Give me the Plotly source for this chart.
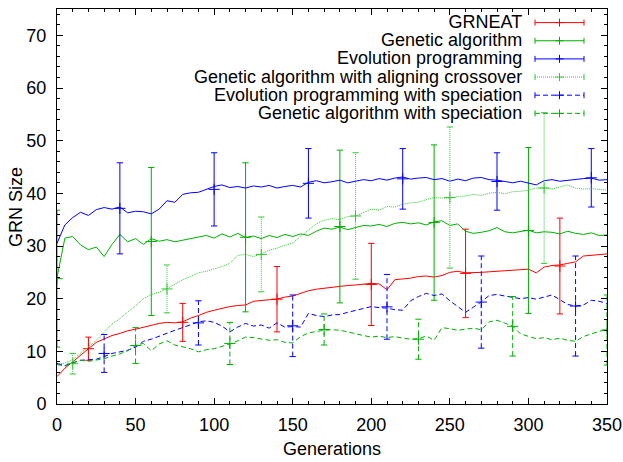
import plotly.graph_objects as go

# ---------------- data ----------------
GENS = list(range(0, 351, 5))

GRNEAT = [5.2, 6.8, 8.0, 9.3, 10.5, 11.7, 12.4, 13.0, 13.4, 13.9, 14.2, 14.6, 14.9, 15.3, 15.5, 15.4,
          15.6, 16.3, 16.8, 17.4, 17.8, 18.2, 18.5, 18.7, 18.8, 19.5, 19.7, 19.8, 19.9, 20.3, 20.5, 21.0,
          21.5, 21.8, 22.0, 22.2, 22.3, 22.5, 22.6, 22.8, 22.9, 22.8, 21.7, 23.6, 23.7, 23.9, 24.2, 24.3,
          24.1, 24.4, 25.0, 25.2, 24.9, 24.9, 25.0, 25.1, 25.2, 25.3, 25.4, 25.6, 25.6, 24.9, 26.0, 26.3,
          26.4, 26.7, 27.0, 28.1, 28.2, 28.4, 28.5]

GA = [24.0, 31.5, 31.8, 30.2, 29.3, 29.8, 28.0, 30.3, 32.2, 30.8, 31.4, 30.3, 31.4, 30.9, 31.2, 30.8,
      31.1, 31.4, 31.6, 32.0, 31.5, 32.3, 31.7, 32.4, 31.6, 31.9, 31.4, 32.0, 31.6, 32.2, 31.8, 32.3,
      32.0, 32.8, 33.4, 33.2, 33.6, 33.1, 33.5, 33.9, 33.8, 34.1, 33.7, 34.3, 34.5, 34.2, 34.4, 34.0,
      34.6, 34.8, 33.9, 34.2, 32.8, 32.4, 32.6, 32.9, 33.5, 32.7, 32.5, 32.8, 33.0, 32.5, 32.7, 32.6,
      32.3, 32.8, 32.4, 32.2, 32.5, 32.0, 32.1]

EP = [30.5, 34.0, 35.4, 36.4, 35.8, 36.9, 37.3, 37.0, 37.4, 36.3, 36.6, 36.5, 36.1, 37.0, 38.6, 38.3,
      39.8, 40.1, 40.2, 40.8, 41.3, 41.6, 41.1, 41.3, 41.0, 41.4, 41.2, 41.5, 41.0, 41.3, 41.5, 41.2,
      42.1, 42.4, 42.0, 42.2, 42.5, 42.0, 42.3, 42.6, 42.4, 42.8, 42.5, 42.9, 43.1, 42.7, 42.9, 43.0,
      42.6, 42.8, 42.3, 42.7, 42.4, 42.9, 43.0, 42.6, 42.5, 42.2, 42.0, 42.3, 41.9, 41.6, 42.4, 42.6,
      42.3, 42.5, 42.6, 42.8, 42.9, 42.5, 42.6]

GA_ALIGN = [7.5, 7.8, 8.4, 9.6, 10.8, 12.1, 13.6, 15.2, 16.2, 17.5, 18.6, 20.0, 20.8, 21.2, 21.9, 22.8,
            23.6, 24.2, 24.9, 25.2, 25.6, 26.1, 26.7, 28.2, 28.4, 28.0, 28.5, 29.2, 29.6, 30.1, 30.6, 31.8,
            33.0, 34.2, 34.9, 35.2, 35.0, 35.6, 35.7, 36.4, 37.0, 36.8, 37.5, 37.4, 37.9, 38.2, 38.3, 38.8,
            39.2, 39.1, 39.1, 39.4, 39.5, 39.8, 39.6, 40.0, 40.2, 39.9, 40.3, 40.4, 40.6, 41.0, 41.1, 40.8,
            41.2, 41.6, 41.0, 40.8, 40.9, 40.7, 40.6]

EP_SPEC = [7.7, 7.3, 7.8, 8.3, 8.4, 8.5, 9.0, 9.6, 9.9, 10.2, 10.8, 11.9, 12.3, 12.9, 13.4, 14.0,
           14.5, 15.1, 15.6, 15.8, 15.5, 14.8, 13.7, 14.6, 15.3, 14.8, 15.0, 14.4, 15.4, 14.6, 14.7, 14.6,
           17.2, 16.8, 16.6, 16.9, 17.0, 17.4, 17.8, 18.2, 18.5, 18.3, 18.2, 17.9, 17.8, 19.6, 20.4, 21.0,
           20.6, 20.9, 19.6, 18.5, 17.4, 18.4, 19.4, 20.6, 20.8, 20.5, 20.3, 20.0, 20.2, 19.9, 20.3, 20.7,
           19.8, 18.9, 18.6, 18.8, 19.7, 19.5, 19.1]

GA_SPEC = [7.5, 7.2, 7.8, 8.3, 8.1, 8.4, 8.6, 9.1, 9.5, 10.1, 11.1, 11.5, 10.1, 11.4, 12.0, 11.2,
           10.9, 10.5, 9.9, 10.3, 10.5, 10.9, 11.4, 12.0, 12.7, 12.6, 12.4, 12.1, 12.2, 11.7, 11.6, 12.8,
           13.5, 13.8, 14.0, 14.1, 14.0, 13.7, 13.3, 13.0, 12.7, 12.9, 12.6, 12.8, 12.5, 12.3, 12.4, 12.9,
           12.1, 14.5, 14.3, 14.0, 14.2, 14.4, 14.1, 15.6, 15.9, 15.3, 14.8, 13.3, 12.9, 12.4, 12.6, 12.2,
           12.5, 12.1, 11.9, 12.8, 13.3, 13.8, 14.1]

# error bars: x position, centre, half-width
GRNEAT_EX = [20, 80, 140, 200, 260, 320]
GRNEAT_EY = [10.5, 15.5, 19.9, 22.7, 24.8, 26.2]
GRNEAT_EE = [2.2, 3.6, 6.2, 7.8, 8.4, 9.1]

GA_EX = [0, 60, 120, 180, 240, 300]
GA_EY = [23.8, 30.85, 31.65, 33.7, 34.45, 32.95]
GA_EE = [13.0, 14.05, 14.15, 14.5, 14.75, 15.75]

EP_EX = [40, 100, 160, 220, 280, 340]
EP_EY = [37.15, 40.75, 41.9, 42.75, 42.25, 42.95]
EP_EE = [8.65, 6.95, 6.6, 5.75, 5.45, 5.55]

GA_ALIGN_EX = [10, 70, 130, 190, 250, 310]
GA_ALIGN_EY = [7.65, 21.85, 28.4, 35.7, 39.2, 41.0]
GA_ALIGN_EE = [1.95, 4.55, 7.1, 12.0, 13.4, 14.3]

EP_SPEC_EX = [30, 90, 150, 210, 270, 330]
EP_SPEC_EY = [9.6, 15.4, 14.85, 18.45, 19.35, 18.6]
EP_SPEC_EE = [3.6, 4.2, 5.85, 6.15, 8.75, 9.5]

GA_SPEC_EX = [50, 110, 170, 230, 290, 350]
GA_SPEC_EY = [11.1, 11.5, 14.15, 12.3, 14.75, 14.05]
GA_SPEC_EE = [3.4, 4.0, 2.95, 3.8, 5.65, 6.65]

NAMES = ["GRNEAT", "Genetic algorithm", "Evolution programming",
         "Genetic algorithm with aligning crossover",
         "Evolution programming with speciation", "Genetic algorithm with speciation"]

X_TICKS = [0, 50, 100, 150, 200, 250, 300, 350]
Y_TICKS = [0, 10, 20, 30, 40, 50, 60, 70]

# ---------------- styles ----------------
FONT = "Liberation Sans, Arial, Helvetica, sans-serif"
FS = 18
CAP = 2.0  # half cap width in generations
SERIES = [
    (GRNEAT, GRNEAT_EX, GRNEAT_EY, GRNEAT_EE, "#ff0000", "solid"),
    (GA, GA_EX, GA_EY, GA_EE, "#00b000", "solid"),
    (EP, EP_EX, EP_EY, EP_EE, "#0000ff", "solid"),
    (GA_ALIGN, GA_ALIGN_EX, GA_ALIGN_EY, GA_ALIGN_EE, "#33c833", "1px,1px"),
    (EP_SPEC, EP_SPEC_EX, EP_SPEC_EY, EP_SPEC_EE, "#0000ff", "5px,3px"),
    (GA_SPEC, GA_SPEC_EX, GA_SPEC_EY, GA_SPEC_EE, "#00b000", "5px,3px"),
]

# plot area in pixels (for legend placement)
L, R, T, B = 57, 607, 9, 404
W, H = 623, 462


def px2paper(px, py):
    return (px - L) / (R - L), (B - py) / (B - T)


fig = go.Figure()

for (ys, ex, ey, ee, col, dash), name in zip(SERIES, NAMES):
    fig.add_trace(go.Scatter(x=GENS, y=ys, mode="lines", name=name, showlegend=False,
                             line=dict(color=col, width=1, dash=dash)))
    bx, by, cx, cy = [], [], [], []
    for x, y, e in zip(ex, ey, ee):
        bx += [x, x, None]
        by += [y - e, y + e, None]
        for yy in (y - e, y + e):
            cx += [x - CAP, x + CAP, None]
            cy += [yy, yy, None]
    fig.add_trace(go.Scatter(x=bx, y=by, mode="lines", showlegend=False, hoverinfo="skip",
                             line=dict(color=col, width=1, dash=dash)))
    fig.add_trace(go.Scatter(x=cx, y=cy, mode="lines", showlegend=False, hoverinfo="skip",
                             line=dict(color=col, width=1)))
    fig.add_trace(go.Scatter(x=ex, y=ey, mode="markers", showlegend=False, hoverinfo="skip",
                             marker=dict(symbol="cross-thin", size=8, color=col,
                                         line=dict(color=col, width=1))))

# manual gnuplot-style legend: one right-aligned multi-line text block
shapes = []
annotations = []
ROW0, DROW = 22.6, 18.15
TXT_R, S0, S1 = 523, 535, 584
LEG_BASE = 14  # base size -> line pitch 1.3 * 14 = 18.2 px, like the reference rows
legend_text = "<br>".join(f'<span style="font-size:{FS}px">{n}</span>' for n in NAMES)
lx, ly = px2paper(TXT_R, ROW0 + DROW * (len(NAMES) - 1) / 2)
annotations.append(dict(x=lx, y=ly, xref="paper", yref="paper", text=legend_text, showarrow=False,
                        xanchor="right", yanchor="middle", align="right", borderpad=0,
                        font=dict(family=FONT, size=LEG_BASE, color="black")))

for i, (ys, ex, ey, ee, col, dash) in enumerate(SERIES):
    py = ROW0 + DROW * i
    x0, y0 = px2paper(S0, py)
    x1, _ = px2paper(S1, py)
    shapes.append(dict(type="line", xref="paper", yref="paper", x0=x0, x1=x1, y0=y0, y1=y0,
                       line=dict(color=col, width=1, dash=dash)))
    for sx in (S0, S1):
        xa, ya = px2paper(sx, py - 3)
        _, yb = px2paper(sx, py + 3)
        shapes.append(dict(type="line", xref="paper", yref="paper", x0=xa, x1=xa, y0=ya, y1=yb,
                           line=dict(color=col, width=1)))
    xm, ym0 = px2paper((S0 + S1) / 2, py - 4)
    _, ym1 = px2paper((S0 + S1) / 2, py + 4)
    xl, yc2 = px2paper((S0 + S1) / 2 - 4, py)
    xr2, _ = px2paper((S0 + S1) / 2 + 4, py)
    shapes.append(dict(type="line", xref="paper", yref="paper", x0=xm, x1=xm, y0=ym0, y1=ym1,
                       line=dict(color=col, width=1)))
    shapes.append(dict(type="line", xref="paper", yref="paper", x0=xl, x1=xr2, y0=yc2, y1=yc2,
                       line=dict(color=col, width=1)))

# y-axis title as a rotated annotation (gnuplot places it close to the tick labels)
tx, ty = px2paper(16, 207)
annotations.append(dict(x=tx, y=ty, xref="paper", yref="paper", text="GRN Size", showarrow=False,
                        textangle=-90, xanchor="center", yanchor="middle",
                        font=dict(family=FONT, size=FS, color="black")))

axis_common = dict(showline=True, linecolor="black", linewidth=1, mirror="ticks",
                   ticks="inside", ticklen=6, tickcolor="black", tickwidth=1,
                   showgrid=False, zeroline=False,
                   tickfont=dict(family=FONT, size=FS, color="black"))

fig.update_layout(
    width=W, height=H,
    margin=dict(l=L, r=W - R, t=T, b=H - B, autoexpand=False),
    paper_bgcolor="white", plot_bgcolor="white",
    showlegend=False,
    shapes=shapes, annotations=annotations,
    xaxis=dict(range=[0, 350], tickvals=X_TICKS, ticktext=[str(v) for v in X_TICKS],
               minor=dict(dtick=10, tick0=0, ticks="inside", ticklen=3, tickcolor="black"),
               title=dict(text="Generations", font=dict(family=FONT, size=FS, color="black"), standoff=8),
               ticklabelstandoff=4,
               **axis_common),
    yaxis=dict(range=[0, 75], tickvals=Y_TICKS, ticktext=[str(v) for v in Y_TICKS],
               minor=dict(dtick=2, tick0=0, ticks="inside", ticklen=3, tickcolor="black"),
               ticklabelstandoff=6,
               **axis_common),
)

fig.write_html("out.html")
